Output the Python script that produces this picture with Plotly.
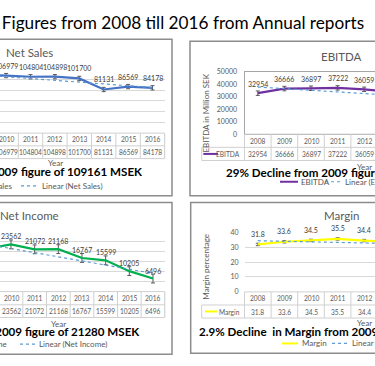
import plotly.graph_objects as go

# ---------------- data ----------------
years = ['2008', '2009', '2010', '2011', '2012', '2013', '2014', '2015', '2016']
net_sales = [103629, 109161, 106979, 104804, 104898, 101700, 81131, 86569, 84178]
ebitda = [32954, 36666, 36897, 37222, 36059, 34000, 26500, 28000, 25843]
net_income = [25500, 21280, 23562, 21072, 21168, 16767, 15599, 10205, 6496]
margin = [31.8, 33.6, 34.5, 35.5, 34.4, 33.4, 32.7, 32.3, 30.7]

# linear trend lines (value at 2008, value at 2016)
ns_trend = [111500, 84800]
eb_trend = [37900, 27400]
ni_trend = [25600, 9100]
mg_trend = [34.3, 31.3]

# constant error-bar sizes
ns_err, eb_err, ni_err, mg_err = 4000, 1800, 2200, 0.8

main_title = "Financial Figures from 2008 till 2016 from Annual reports"

# ---------------- helpers ----------------
W, H = 375, 366
FONT = "Lato"
GRAY = "#595959"


def fx(p):
    return p / W


def fy(p):
    return 1 - p / H


fig = go.Figure()
shapes = []
anns = []


def ann(x, y, text, size, color=GRAY, xanchor='center', yanchor='middle', bold=False,
        xref='paper', yref='paper', yshift=0, angle=0):
    if bold:
        text = '<b>' + text + '</b>'
    anns.append(dict(x=x, y=y, xref=xref, yref=yref, text=text, showarrow=False,
                     xanchor=xanchor, yanchor=yanchor, yshift=yshift, textangle=angle,
                     font=dict(family=FONT, size=size, color=color)))


def line(x0, y0, x1, y1, color, width=1, dash='solid', xref='paper', yref='paper'):
    shapes.append(dict(type='line', x0=x0, y0=y0, x1=x1, y1=y1, xref=xref, yref=yref,
                       line=dict(color=color, width=width, dash=dash), layer='above'))


panels = [
    dict(ax='', name='Net Sales', vals=net_sales, trend=ns_trend, err=ns_err, color='#4472C4',
         xdom=(0, 164.7), xrng=(1.75, 8.5), ydom=(131, 65), yrng=(0, 120000), dtick=20000,
         grid=True, ticks=False, table=(131, 144, 157), loff=10, fmt='{:d}',
         title=(29.5, 49), year=(55, 161.7),
         sub=dict(text='23% Decline from 2009 figure of 109161 MSEK', x=145, y=170, anchor='right'),
         border=(-20, 35, 172, 195), right=False,
         leg=dict(y=185, name_x=13.5, dot=(21, 37), lin_x=39.5)),
    dict(ax='2', name='EBITDA', vals=ebitda, trend=eb_trend, err=eb_err, color='#7030A0',
         xdom=(244.5, 375), xrng=(-0.5, -0.5 + 130.5 / 26.6), ydom=(132, 68.5), yrng=(0, 50000),
         dtick=10000, grid=False, ticks=True, table=(132, 145.5, 159), loff=9.5, fmt='{:d}',
         title=(341, 53), year=(364.2, 166),
         sub=dict(text='29% Decline from 2009 figure of 36666 MSEK', x=224.3, y=171, anchor='left'),
         border=(190, 37, 420, 195), right=True, ytitle=('EBITDA in Million SEK', 206, 111),
         leg=dict(y=180.7, key=(280, 298), name_x=298.5, dot=(325, 342), lin_x=343),
         keycell=(203.3, 218)),
    dict(ax='3', name='Net Income', vals=net_income, trend=ni_trend, err=ni_err, color='#00B050',
         xdom=(0, 164.8), xrng=(1.535, 8.5), ydom=(293, 231.5), yrng=(0, 30000), dtick=5000,
         grid=True, ticks=False, table=(293, 306.5, 319.5), loff=8, fmt='{:d}',
         title=(29.5, 215), year=(58.3, 326),
         sub=dict(text='69% Decline from 2009 figure of 21280 MSEK', x=141.7, y=334.3, anchor='right'),
         border=(-20, 202, 172, 357), right=False,
         leg=dict(y=346.7, name_x=8.5, dot=(20, 35), lin_x=37)),
    dict(ax='4', name='Margin', vals=margin, trend=mg_trend, err=mg_err, color='#FFFF00',
         xdom=(244.5, 375), xrng=(-0.5, -0.5 + 130.5 / 26.6), ydom=(293.3, 232.3), yrng=(0, 40),
         dtick=10, grid=True, ticks=True, table=(293.3, 306.7, 320), loff=10.5, fmt='{:.1f}',
         title=(341, 215), year=(364.2, 325),
         sub=dict(text='2.9% Decline \u00a0in Margin from 2009 figure of 33.6', x=196.7, y=333.3,
                  anchor='left'),
         border=(190.7, 202, 420, 356), right=True, ytitle=('Margin percentage', 206.5, 268),
         leg=dict(y=346, key=(282, 298), name_x=300, dot=(332, 348), lin_x=350),
         keycell=(205, 217)),
]

TREND_COLOR = '#5B9BD5'
TABLE_LINE = '#d0d0d0'
xs = list(range(len(years)))

for p in panels:
    a = p['ax']
    xname, yname = 'x' + a, 'y' + a
    xkey, ykey = 'xaxis' + a, 'yaxis' + a

    # panel border
    bx0, by0, bx1, by1 = p['border']
    shapes.append(dict(type='rect', xref='paper', yref='paper', x0=fx(bx0), x1=fx(bx1),
                       y0=fy(by0), y1=fy(by1), line=dict(color='#8c8c8c', width=1.5),
                       layer='below'))

    # series + trend
    fig.add_trace(go.Scatter(x=xs, y=p['vals'], mode='lines', xaxis=xname, yaxis=yname,
                             line=dict(color=p['color'], width=2.2),
                             error_y=dict(type='constant', value=p['err'], color='#595959',
                                          thickness=1, width=2),
                             hoverinfo='skip', showlegend=False))
    fig.add_trace(go.Scatter(x=[xs[0], xs[-1]], y=p['trend'], mode='lines', xaxis=xname,
                             yaxis=yname, line=dict(color=TREND_COLOR, width=1.2, dash='dot'),
                             hoverinfo='skip', showlegend=False))

    # axes
    fig.update_layout({
        xkey: dict(domain=[fx(p['xdom'][0]), fx(p['xdom'][1])], range=list(p['xrng']),
                   anchor=yname, showgrid=False, zeroline=False, showticklabels=False,
                   ticks='', showline=(a == '2'), mirror=True, linecolor='#a6a6a6',
                   linewidth=1, fixedrange=True),
        ykey: dict(domain=[fy(p['ydom'][0]), fy(p['ydom'][1])], range=list(p['yrng']),
                   anchor=xname, dtick=p['dtick'], tickformat='d', showgrid=p['grid'],
                   gridcolor='#d9d9d9', gridwidth=1, zeroline=False,
                   showticklabels=p['ticks'], ticks='', ticklabelstandoff=5,
                   tickfont=dict(family=FONT, size=7, color=GRAY),
                   showline=(a == '2'), linecolor='#a6a6a6', linewidth=1, fixedrange=True),
    })

    # data labels
    for i, v in enumerate(p['vals']):
        ann(i, v, p['fmt'].format(v), 7, color='#404040', xref=xname, yref=yname,
            yshift=p['loff'])

    # data table
    t0, t1, t2 = p['table']
    for k in range(len(years) + 1):
        line(k - 0.5, fy(t0), k - 0.5, fy(t2), TABLE_LINE, xref=xname)
    for ty in (t0, t1, t2):
        line(-0.5, fy(ty), len(years) - 0.5, fy(ty), TABLE_LINE, xref=xname)
    edge = p['xdom'][0] if p['right'] else p['xdom'][1]
    line(fx(edge), fy(t0), fx(edge), fy(t2), TABLE_LINE)
    for i, yv in enumerate(years):
        ann(i, fy((t0 + t1) / 2), yv, 6.6, xref=xname)
        ann(i, fy((t1 + t2) / 2), p['fmt'].format(p['vals'][i]), 6.6, xref=xname)

    # title, axis titles, subtitle
    ann(fx(p['title'][0]), fy(p['title'][1]), p['name'], 11.5)
    ann(fx(p['year'][0]), fy(p['year'][1]), 'Year', 8)
    s = p['sub']
    ann(fx(s['x']), fy(s['y']), s['text'], 11.6, color='#000000', xanchor=s['anchor'], bold=True)

    # legend
    lg = p['leg']
    ly = fy(lg['y'])
    if p['right']:
        line(fx(lg['key'][0]), ly, fx(lg['key'][1]), ly, p['color'], width=2)
        ann(fx(lg['name_x']), ly, p['name'], 8, xanchor='left')
    else:
        ann(fx(lg['name_x']), ly, p['name'], 8, xanchor='right')
    line(fx(lg['dot'][0]), ly, fx(lg['dot'][1]), ly, TREND_COLOR, width=1.2, dash='dot')
    ann(fx(lg['lin_x']), ly, 'Linear (' + p['name'] + ')', 8, xanchor='left')

    if p['right']:
        # legend-key cell of the data table
        cx0 = 201.7
        line(fx(cx0), fy(t1), fx(p['xdom'][0]), fy(t1), TABLE_LINE)
        line(fx(cx0), fy(t2), fx(p['xdom'][0]), fy(t2), TABLE_LINE)
        line(fx(cx0), fy(t1), fx(cx0), fy(t2), TABLE_LINE)
        ky = fy((t1 + t2) / 2)
        line(fx(p['keycell'][0]), ky, fx(p['keycell'][1]), ky, p['color'], width=2)
        ann(fx(242), ky, p['name'], 6.6, xanchor='right')
        # y axis title
        yt, tx, ty_ = p['ytitle']
        ann(fx(tx), fy(ty_), yt, 8, angle=-90)

# main title (only the right part is visible)
ann(fx(366), fy(17.5), main_title, 17.2, color='#000000', xanchor='right')

fig.update_layout(width=W, height=H, margin=dict(l=0, r=0, t=0, b=0),
                  paper_bgcolor='white', plot_bgcolor='white', showlegend=False,
                  shapes=shapes, annotations=anns, font=dict(family=FONT))

fig.write_html("out.html", config={'displayModeBar': False},
               post_script="document.body.style.margin='0';document.body.style.overflow='hidden';")
